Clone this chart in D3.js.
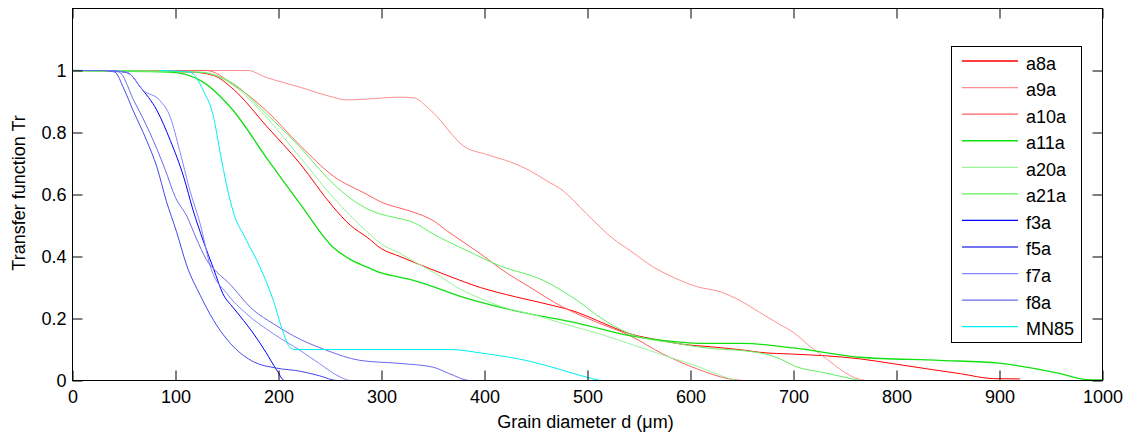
<!DOCTYPE html>
<html>
<head>
<meta charset="utf-8">
<script src="https://cdn.jsdelivr.net/npm/d3@7"></script>
<style>
  html, body { margin: 0; padding: 0; background: #fff; }
  svg { display: block; font-family: "Liberation Sans", Arial, sans-serif; }
</style>
</head>
<body>
<svg id="chart" width="1132" height="437"></svg>
<script>
// Transfer function Tr versus grain diameter d (µm), one [d, Tr] list per sample
const a8a = [[0,1],[115,0.995],[137,0.984],[156,0.94],[188,0.822],[221,0.699],[253,0.56],[270,0.5],[286,0.462],[300,0.425],[318,0.4],[331,0.382],[363,0.34],[396,0.3],[430,0.27],[460,0.247],[490,0.22],[509,0.194],[541,0.151],[570,0.13],[590,0.118],[622,0.108],[654,0.097],[667,0.091],[700,0.085],[730,0.08],[764,0.07],[797,0.054],[829,0.038],[862,0.022],[894,0.006],[920,0.005]];
const a9a = [[0,1],[170,1],[188,0.978],[221,0.946],[253,0.914],[266,0.905],[286,0.908],[318,0.914],[331,0.912],[345,0.88],[357,0.84],[368,0.795],[379,0.758],[402,0.729],[425,0.705],[444,0.677],[460,0.645],[476,0.613],[499,0.538],[525,0.457],[541,0.42],[564,0.366],[590,0.323],[606,0.303],[630,0.285],[648,0.258],[667,0.22],[687,0.18],[700,0.155],[716,0.11],[732,0.07],[748,0.03],[760,0.008],[770,0]];
const a10a = [[0,1],[130,1],[156,0.955],[188,0.871],[221,0.758],[253,0.66],[286,0.6],[300,0.575],[318,0.556],[331,0.543],[350,0.516],[363,0.484],[396,0.409],[418,0.355],[444,0.301],[476,0.237],[509,0.188],[541,0.145],[573,0.086],[606,0.038],[638,0.005],[650,0]];
const a11a = [[0,1],[95,0.995],[124,0.968],[156,0.871],[188,0.72],[221,0.57],[253,0.43],[270,0.39],[286,0.366],[298,0.349],[318,0.333],[331,0.323],[379,0.269],[428,0.226],[493,0.183],[541,0.145],[590,0.124],[610,0.12],[651,0.12],[700,0.105],[764,0.075],[842,0.065],[900,0.056],[926,0.043],[959,0.022],[985,0.003],[1000,0.002]];
const a20a = [[0,1],[125,0.995],[156,0.952],[188,0.85],[221,0.72],[253,0.591],[286,0.48],[300,0.44],[318,0.41],[331,0.385],[350,0.35],[379,0.29],[396,0.265],[415,0.24],[450,0.21],[480,0.18],[512,0.15],[544,0.115],[575,0.08],[609,0.043],[630,0.015],[645,0]];
const a21a = [[0,1],[120,0.995],[156,0.958],[188,0.861],[221,0.752],[253,0.635],[286,0.554],[298,0.538],[318,0.522],[331,0.51],[350,0.473],[383,0.419],[415,0.37],[457,0.323],[490,0.258],[512,0.204],[541,0.151],[590,0.118],[610,0.107],[664,0.091],[687,0.07],[700,0.048],[730,0.025],[764,0]];
const f3a = [[0,1],[30,1],[50,0.995],[55,0.99],[66,0.946],[82,0.871],[95,0.774],[108,0.656],[117,0.55],[127,0.45],[137,0.36],[146,0.28],[156,0.235],[166,0.194],[176,0.15],[188,0.09],[198,0.035],[206,0],[1000,0]];
const f5a = [[0,1],[30,1],[41,0.995],[50,0.94],[59,0.87],[72,0.774],[82,0.688],[91,0.58],[101,0.48],[111,0.37],[124,0.275],[137,0.194],[156,0.11],[176,0.06],[198,0.04],[221,0.03],[240,0.015],[257,0],[1000,0]];
const f7a = [[0,1],[30,1],[53,0.994],[69,0.935],[85,0.903],[95,0.849],[104,0.742],[114,0.613],[124,0.505],[134,0.366],[150,0.28],[169,0.215],[195,0.151],[221,0.097],[240,0.054],[260,0.011],[270,0],[1000,0]];
const f8a = [[0,1],[30,1],[45,0.995],[60,0.9],[75,0.8],[90,0.68],[100,0.59],[111,0.53],[120,0.46],[130,0.39],[140,0.35],[150,0.32],[176,0.226],[195,0.183],[214,0.145],[247,0.097],[279,0.065],[318,0.055],[350,0.043],[366,0.022],[386,0],[1000,0]];
const MN85 = [[85,1],[114,0.995],[127,0.935],[137,0.849],[143,0.742],[150,0.624],[156,0.545],[169,0.452],[182,0.366],[195,0.258],[205,0.151],[211,0.107],[216,0.1],[366,0.1],[398,0.088],[444,0.062],[476,0.033],[500,0.01],[515,0],[1000,0]];

const seriesNames = ["a8a", "a9a", "a10a", "a11a", "a20a", "a21a", "f3a", "f5a", "f7a", "f8a", "MN85"];
const seriesValues = [a8a, a9a, a10a, a11a, a20a, a21a, f3a, f5a, f7a, f8a, MN85];

const xTicks = [0, 100, 200, 300, 400, 500, 600, 700, 800, 900, 1000];
const yTicks = [0, 0.2, 0.4, 0.6, 0.8, 1];

// line colours and widths, in series order
const lineColors = ["#ff0000", "#ff9090", "#ff6060", "#10e010", "#98f598", "#60f060",
                    "#0000ff", "#4646ee", "#8585ff", "#6a6aee", "#00f0f0"];
const lineWidths = [1, 1, 1, 1.3, 1, 1, 1, 1, 1, 1, 1];

const svg = d3.select("#chart");
svg.append("rect").attr("width", 1132).attr("height", 437).attr("fill", "#fff");

const plotLeft = 72.5, plotRight = 1102.5, plotTop = 8.5, plotBottom = 380.5;
const x = d3.scaleLinear().domain([0, 1000]).range([plotLeft, plotRight]);
const y = d3.scaleLinear().domain([0, 1.2]).range([plotBottom, plotTop]);

const fontSize = 18;
const tickLen = 10;

// curves
const line = d3.line().curve(d3.curveMonotoneX).x(d => x(d[0])).y(d => y(d[1]));
const plot = svg.append("g");
seriesValues.forEach((vals, i) => {
  plot.append("path")
    .attr("d", line(vals))
    .attr("fill", "none")
    .attr("stroke", lineColors[i])
    .attr("stroke-width", lineWidths[i])
    .attr("stroke-linejoin", "round");
});

// axes with inward ticks on all four sides
function styleAxis(g) {
  g.select(".domain").remove();
  g.selectAll(".tick line").attr("stroke", "#000");
  g.selectAll(".tick text").attr("fill", "#000").attr("font-size", fontSize)
    .attr("font-family", "Liberation Sans, Arial, sans-serif");
}
svg.append("g").attr("transform", `translate(0,${plotBottom})`)
  .call(d3.axisBottom(x).tickValues(xTicks).tickSize(-tickLen).tickPadding(10).tickFormat(d => d))
  .call(styleAxis);
svg.append("g").attr("transform", `translate(0,${plotTop})`)
  .call(d3.axisTop(x).tickValues(xTicks).tickSize(-tickLen).tickFormat(""))
  .call(styleAxis);
svg.append("g").attr("transform", `translate(${plotLeft},0)`)
  .call(d3.axisLeft(y).tickValues(yTicks).tickSize(-tickLen).tickPadding(6).tickFormat(d => d))
  .call(styleAxis);
svg.append("g").attr("transform", `translate(${plotRight},0)`)
  .call(d3.axisRight(y).tickValues(yTicks).tickSize(-tickLen).tickFormat(""))
  .call(styleAxis);

// axes box
svg.append("rect")
  .attr("x", plotLeft).attr("y", plotTop)
  .attr("width", plotRight - plotLeft).attr("height", plotBottom - plotTop)
  .attr("fill", "none").attr("stroke", "#000").attr("stroke-width", 1);

// axis titles
svg.append("text")
  .attr("x", (plotLeft + plotRight) / 2 - 2).attr("y", 428)
  .attr("text-anchor", "middle").attr("font-size", fontSize).attr("fill", "#000")
  .text("Grain diameter d (\u03bcm)");
svg.append("text")
  .attr("transform", "translate(25,193) rotate(-90)")
  .attr("text-anchor", "middle").attr("font-size", fontSize).attr("fill", "#000")
  .text("Transfer function Tr");

// legend
const legX = 951.5, legY = 46.5, legW = 130, legH = 296, rowStep = 26.57, firstRow = 61;
const legend = svg.append("g");
legend.append("rect")
  .attr("x", legX).attr("y", legY).attr("width", legW).attr("height", legH)
  .attr("fill", "#fff").attr("stroke", "#000").attr("stroke-width", 1);
seriesNames.forEach((name, i) => {
  const ry = firstRow + i * rowStep;
  legend.append("line")
    .attr("x1", 962).attr("x2", 1018).attr("y1", ry).attr("y2", ry)
    .attr("stroke", lineColors[i]).attr("stroke-width", lineWidths[i] + 0.3);
  legend.append("text")
    .attr("x", 1026).attr("y", ry + 8.5)
    .attr("font-size", fontSize).attr("fill", "#000")
    .text(name);
});
</script>
</body>
</html>
